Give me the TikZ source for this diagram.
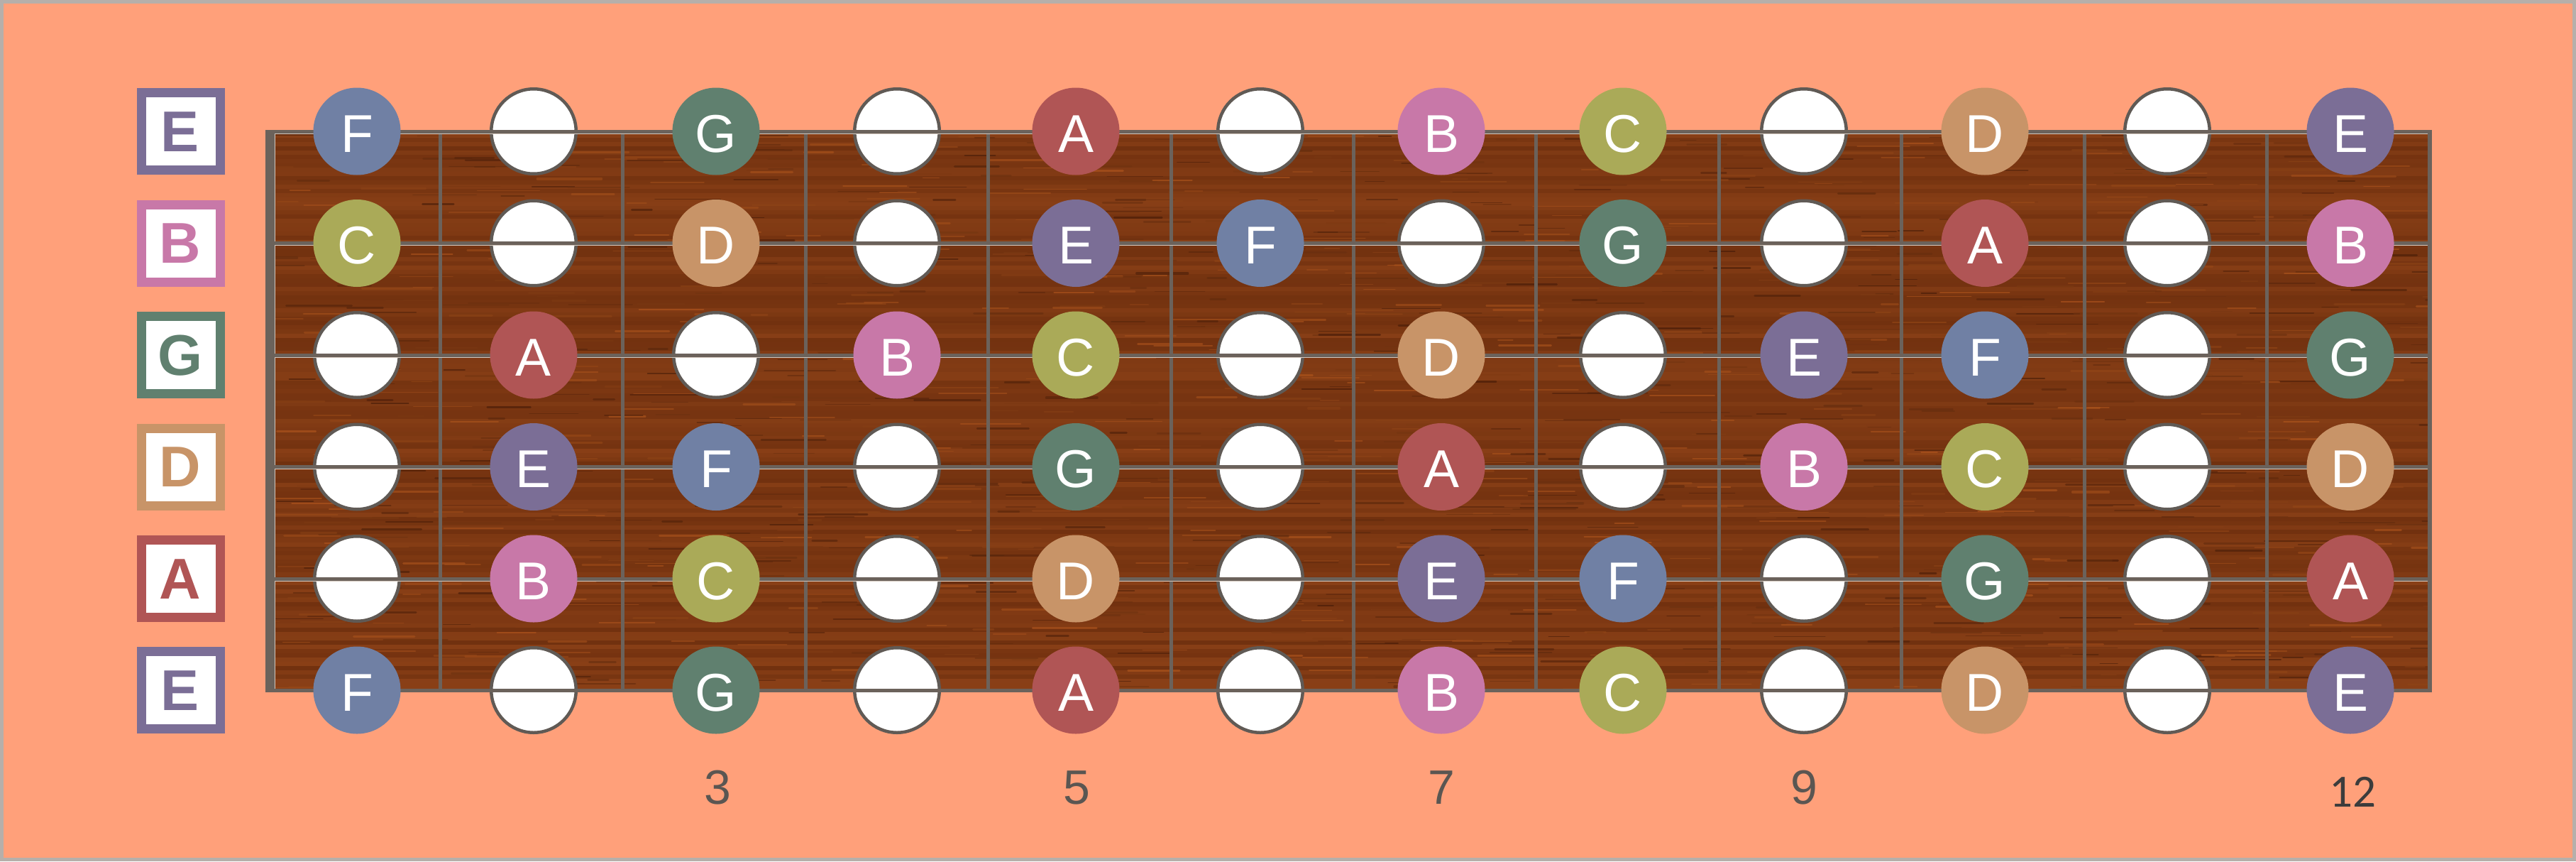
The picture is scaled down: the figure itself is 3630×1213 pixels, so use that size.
\documentclass[tikz,border=0pt]{standalone}
\usepackage{fontspec}
\setmainfont{Liberation Sans}
\newfontfamily\carl{Carlito}
\definecolor{salmon}{HTML}{FFA07A}
\definecolor{framec}{HTML}{B6AFAA}
\definecolor{metal}{HTML}{6B625B}
\definecolor{ring}{HTML}{605A55}
\definecolor{hilite}{HTML}{D4C8BE}
\definecolor{woodbase}{HTML}{7E3A14}
\definecolor{woodD}{HTML}{66290B}
\definecolor{woodL}{HTML}{96461A}
\definecolor{grainD}{HTML}{441A07}
\definecolor{grainL}{HTML}{B4581E}
\definecolor{numc}{HTML}{5A5652}
\definecolor{numd}{HTML}{3C3C3C}
\definecolor{nE}{HTML}{7B6E96}
\definecolor{nB}{HTML}{C878A8}
\definecolor{nG}{HTML}{60806F}
\definecolor{nD}{HTML}{C89468}
\definecolor{nA}{HTML}{B05555}
\definecolor{nF}{HTML}{7080A4}
\definecolor{nC}{HTML}{AAAA58}
\begin{document}
\begin{tikzpicture}[x=1pt,y=-1pt,
  blank/.style={circle, minimum size=119.5, inner sep=0, fill=white, draw=ring, line width=4.5},
  notecirc/.style={circle, minimum size=123, inner sep=0},
  notetxt/.style={inner sep=0, text=white, font=\fontsize{75}{80}\selectfont, anchor=base},
  lblbox/.style={rectangle, minimum width=111, minimum height=109, line width=13, fill=white, inner sep=0},
  lbltxt/.style={inner sep=0, font=\bfseries\fontsize{81}{90}\selectfont, anchor=base},
  numtxt/.style={inner sep=0, text=numc, font=\fontsize{68}{72}\selectfont, anchor=base},
  numtxtb/.style={inner sep=0, text=numd, font=\carl\fontsize{65}{70}\selectfont, anchor=base},
  stringline/.style={draw=metal, line width=5},
  stringhi/.style={draw=hilite, line width=1.2},
  fretline/.style={draw=metal, line width=5}
]
\useasboundingbox (0,0) rectangle (3630,1213);
% background and frame
\fill[salmon] (0,0) rectangle (3630,1213);
\draw[framec, line width=5] (2.5,2.5) rectangle (3627.5,1210.5);

% fretboard wood
\pgfmathsetseed{11}
\begin{scope}
  \clip (387,185) rectangle (3424,972);
  \fill[woodbase] (387,185) rectangle (3424,972);
  \foreach \i in {0,...,131} {
    \pgfmathsetmacro\yy{185+6*\i}
    \pgfmathsetmacro\pp{int(100*rnd)}
    \draw[line width=6.3, woodL!\pp!woodD, opacity=0.5] (387,\yy) -- (3424,\yy);
  }
  \foreach \i in {1,...,1400} {
    \pgfmathsetmacro\sx{360+3070*rnd}
    \pgfmathsetmacro\sy{185+787*rnd}
    \pgfmathsetmacro\sl{20+80*rnd}
    \pgfmathsetmacro\sw{1+2.2*rnd}
    \pgfmathsetmacro\pp{int(100*rnd)}
    \draw[line width=\sw, line cap=round, grainL!\pp!grainD, opacity=0.6] (\sx,\sy) -- ++(\sl,0);
  }
\end{scope}

% nut
\fill[metal] (374,183) rectangle (387,974);
\draw[hilite, line width=1.2] (387.6,187) -- (387.6,970);

% frets
\foreach \k in {1,...,11} {
  \pgfmathsetmacro\fx{620.5+257.4*(\k-1)}
  \coordinate (ft\k) at (\fx,185);
  \coordinate (fb\k) at (\fx,972);
  \draw[fretline] (ft\k) -- (fb\k);
}
\coordinate (ftR) at (3424,183);
\coordinate (fbR) at (3424,974);
\draw[metal, line width=6] (ftR) -- (fbR);

\def\rowdata{185/{F,-,G,-,A,-,B,C,-,D,-,E},342.5/{C,-,D,-,E,F,-,G,-,A,-,B},500/{-,A,-,B,C,-,D,-,E,F,-,G},657.5/{-,E,F,-,G,-,A,-,B,C,-,D},815/{-,B,C,-,D,-,E,F,-,G,-,A},972/{F,-,G,-,A,-,B,C,-,D,-,E}}

% empty positions
\foreach \ry/\notes [count=\r] in \rowdata {
  \foreach \n [count=\c] in \notes {
    \pgfmathsetmacro\cx{{503,752,1009,1264,1516,1776,2031,2287,2542,2797,3054,3312}[\c-1]}
    \if\n-
      \node[blank] (b\r-\c) at (\cx,\ry) {};
    \fi
  }
}

% strings
\foreach \ry [count=\r] in {185,342.5,500,657.5,815,972} {
  \coordinate (sL\r) at (374,\ry);
  \coordinate (sR\r) at (3427,\ry);
  \draw[stringline] (sL\r) -- (sR\r);
}
\foreach \ry [count=\r] in {185,342.5,500,657.5,815} {
  \coordinate (hL\r) at (387,\ry+3.1);
  \coordinate (hR\r) at (3421,\ry+3.1);
  \draw[stringhi] (hL\r) -- (hR\r);
}

% notes
\foreach \ry/\notes [count=\r] in \rowdata {
  \foreach \n [count=\c] in \notes {
    \pgfmathsetmacro\cx{{503,752,1009,1264,1516,1776,2031,2287,2542,2797,3054,3312}[\c-1]}
    \if\n-\else
      \node[notecirc, fill=n\n] (n\r-\c) at (\cx,\ry) {};
      \node[notetxt] (t\r-\c) at (\cx,\ry+29) {\n};
    \fi
  }
}

% string labels
\foreach \ry/\L [count=\r] in {185/E,342.5/B,500/G,657.5/D,815/A,972/E} {
  \node[lblbox, draw=n\L] (L\r) at (255,\ry) {};
  \node[lbltxt, text=n\L] (Lt\r) at (254,\ry+28) {\L};
}

% fret numbers
\node[numtxt] (m3) at (1011,1132) {3};
\node[numtxt] (m5) at (1517,1132) {5};
\node[numtxt] (m7) at (2031,1132) {7};
\node[numtxt] (m9) at (2542,1132) {9};
\node[numtxtb] (m12) at (3315,1136) {12};
\end{tikzpicture}
\end{document}
